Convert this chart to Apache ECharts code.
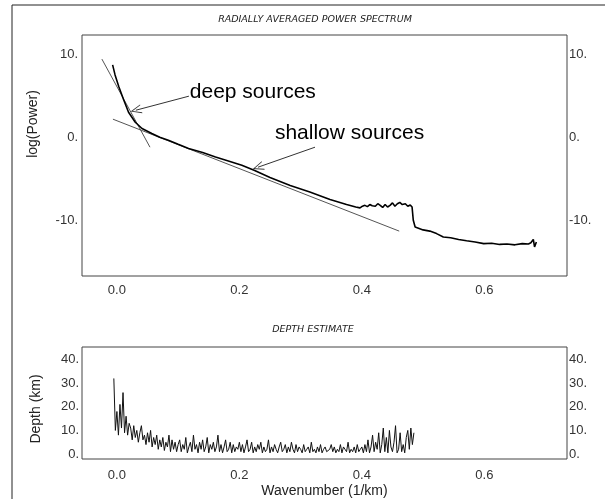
<!DOCTYPE html>
<html><head><meta charset="utf-8">
<script src="https://cdn.jsdelivr.net/npm/echarts@6/dist/echarts.min.js"></script>
<style>html,body{margin:0;padding:0;background:#fff}#c{width:605px;height:499px}</style>
</head><body><div id="c"></div>
<script>
// ---- data ----
const spectrumK = [-0.007,-0.003,0.003,0.011,0.019,0.030,0.041,0.057,0.070,0.084,0.100,0.117,0.140,0.161,0.182,0.204,0.225,0.250,0.283,0.315,0.348,0.375,0.390,0.397,0.401,0.405,0.409,0.413,0.417,0.422,0.426,0.430,0.434,0.438,0.442,0.446,0.450,0.454,0.458,0.462,0.466,0.471,0.475,0.479,0.482,0.484,0.487,0.490,0.500,0.511,0.522,0.533,0.545,0.558,0.571,0.585,0.599,0.612,0.625,0.637,0.650,0.662,0.672,0.676,0.680,0.682,0.685];
const spectrumLogP = [8.7,7.5,6.1,4.5,3.0,1.8,1.05,0.45,0.0,-0.36,-0.85,-1.36,-1.85,-2.37,-2.85,-3.37,-4.0,-4.85,-5.8,-6.6,-7.5,-8.1,-8.4,-8.5,-8.3,-8.2,-8.35,-8.1,-8.25,-8.3,-8.0,-8.2,-8.45,-8.1,-8.4,-8.2,-7.9,-8.3,-8.0,-7.85,-8.1,-8.0,-8.3,-8.15,-8.4,-10.0,-10.8,-11.0,-11.15,-11.3,-11.6,-12.0,-12.1,-12.3,-12.45,-12.6,-12.8,-12.75,-12.9,-12.85,-12.95,-12.8,-12.85,-12.7,-12.3,-13.2,-12.6];
const deepFitK = [-0.0245, 0.054];
const deepFitLogP = [9.4, -1.2];
const shallowFitK = [-0.0065, 0.461];
const shallowFitLogP = [2.17, -11.3];
const annotationText = ['deep sources', 'shallow sources'];
const annotationTextAt = [[0.119, 5.4], [0.258, 0.48]];
const arrowFrom = [[0.1176, 4.94], [0.3235, -1.2]];
const arrowTo = [[0.031, 3.25], [0.2304, -3.61]];
const depthStartK = -0.005;
const depthStepK = 0.0025;
const depthKm = [32,10,18,8,21,11,26,9,16,8,13,
 11,6,12,7,10,5,9,12,6,8,4,9,5,10,3,7,
 4,8,2,6,3,7,1.5,5,3,8,1,6,2,5,1,4,
 6,1,4,2,7,0.5,3,5,1,8, 2,4,0.5,5,2,6,1,3,7,0.5, 4,2,5,1,3,8,1,4,0.5,3, 6,1,2,5,0.5,4,1,3,2,5,
 1,4,0.5,3,6,1,2,5,0.5,3, 1,4,2,5,0.5,3,1,2,6,0.5, 3,1,4,2,0.5,3,5,1,2,4, 0.5,3,1,5,2,0.5,4,1,3,2,
 0.5,4,1,2,3,0.5,5,1,2,0.5, 3,1,4,0.5,2,3,1,0.5,2,4, 1,3,0.5,2,1,4,0.5,3,2,1, 5,0.5,2,1,3,0.5,4,1,2,3,
 0.5,4,1,6,0.5,3,8,1,5,2, 9,0.5,4,11,1,7,0.5,10,3,1, 5,12,0.5,2,9,1,4,0.5,7,10, 2,11,4,9];
const xTicks = [0, 0.2, 0.4, 0.6];
const powerTicks = [-10, 0, 10];
const depthTicks = [0, 10, 20, 30, 40];

// ---- build ----
const zip = (a, b) => a.map((v, i) => [v, b[i]]);
const depthData = depthKm.map((d, i) => [depthStartK + i * depthStepK, d]);
const FONT = 'Liberation Sans';
const lbl = {fontFamily: FONT, fontSize: 13, color: '#333'};
const xMin = -0.057, xMax = 0.735;
function xAx(gi, margin, extra) {
  return Object.assign({
    type: 'value', gridIndex: gi, min: xMin, max: xMax,
    axisLine: {show: false}, axisTick: {show: false}, splitLine: {show: false},
    axisLabel: Object.assign({customValues: xTicks, margin: margin, formatter: v => v.toFixed(1)}, lbl)
  }, extra || {});
}
function yAx(gi, pos, min, max, ticks, margin) {
  return {
    type: 'value', gridIndex: gi, position: pos, min: min, max: max,
    axisLine: {show: false}, axisTick: {show: false}, splitLine: {show: false},
    axisLabel: Object.assign({customValues: ticks, margin: margin, formatter: v => v + '.'}, lbl)
  };
}
const arrowSym = 'path://M0,0 L6,12 L4.8,12 L0,2.4 L-4.8,12 L-6,12 Z';
const chart = echarts.init(document.getElementById('c'), null, {renderer: 'canvas'});
chart.setOption({
  animation: false,
  backgroundColor: '#fff',
  grid: [
    {left: 82, top: 35, width: 485, height: 241, show: true, borderColor: '#444', borderWidth: 1, backgroundColor: 'transparent'},
    {left: 82, top: 347, width: 485, height: 112, show: true, borderColor: '#444', borderWidth: 1, backgroundColor: 'transparent'}
  ],
  xAxis: [
    xAx(0, 8),
    xAx(1, 10, {name: 'Wavenumber (1/km)', nameLocation: 'middle', nameGap: 25, nameTextStyle: {fontFamily: FONT, fontSize: 14, color: '#222'}})
  ],
  yAxis: [
    yAx(0, 'left', -16.7, 12.3, powerTicks, 4),
    yAx(0, 'right', -16.7, 12.3, powerTicks, 2),
    yAx(1, 'left', -2.1, 45.3, depthTicks, 3),
    yAx(1, 'right', -2.1, 45.3, depthTicks, 2)
  ],
  graphic: [
    {type: 'rect', shape: {x: 12, y: 5, width: 620, height: 520}, style: {fill: 'none', stroke: '#222', lineWidth: 1}, silent: true, z: -1},
    {type: 'text', x: 315, y: 20, style: {text: 'RADIALLY AVERAGED POWER SPECTRUM', font: 'italic 200 9.5px "DejaVu Sans"', fill: '#222', textAlign: 'center', textVerticalAlign: 'middle'}},
    {type: 'text', x: 313, y: 330, style: {text: 'DEPTH ESTIMATE', font: 'italic 200 9.5px "DejaVu Sans"', fill: '#222', textAlign: 'center', textVerticalAlign: 'middle'}},
    {type: 'text', x: 33, y: 124, rotation: Math.PI / 2, style: {text: 'log(Power)', font: '14px "Liberation Sans"', fill: '#222', textAlign: 'center', textVerticalAlign: 'middle'}},
    {type: 'text', x: 36, y: 409, rotation: Math.PI / 2, style: {text: 'Depth (km)', font: '14px "Liberation Sans"', fill: '#222', textAlign: 'center', textVerticalAlign: 'middle'}}
  ],
  series: [
    {type: 'line', xAxisIndex: 0, yAxisIndex: 0, data: zip(deepFitK, deepFitLogP), showSymbol: false, lineStyle: {color: '#555', width: 1}, z: 2},
    {type: 'line', xAxisIndex: 0, yAxisIndex: 0, data: zip(shallowFitK, shallowFitLogP), showSymbol: false, lineStyle: {color: '#555', width: 1}, z: 2},
    {type: 'line', xAxisIndex: 0, yAxisIndex: 0, data: zip(spectrumK, spectrumLogP), showSymbol: false, lineStyle: {color: '#000', width: 1.6}, z: 3,
      markLine: {silent: true, symbol: ['none', arrowSym], symbolSize: [9, 11], label: {show: false},
        lineStyle: {color: '#333', width: 1, type: 'solid'},
        data: arrowFrom.map((f, i) => [{coord: f}, {coord: arrowTo[i]}])},
      markPoint: {silent: true,
        data: annotationText.map((t, i) => ({coord: annotationTextAt[i], symbol: 'circle', symbolSize: 0,
          label: {show: true, position: 'right', distance: 0, formatter: t, fontFamily: FONT, fontSize: 21, color: '#000'}}))}
    },
    {type: 'line', xAxisIndex: 1, yAxisIndex: 2, data: depthData, showSymbol: false, lineStyle: {color: '#111', width: 1}}
  ]
});
</script></body></html>
